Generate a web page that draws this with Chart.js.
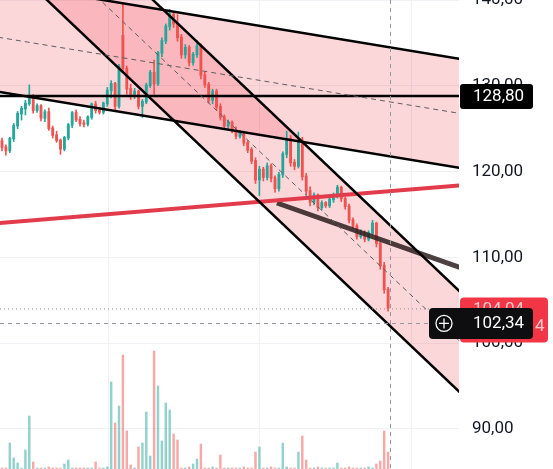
<!DOCTYPE html>
<html>
<head>
<meta charset="utf-8">
<script src="https://cdn.jsdelivr.net/npm/chart.js@4.4.1/dist/chart.umd.min.js"></script>
<style>
  html, body { margin: 0; padding: 0; background: #fff; overflow: hidden; }
  #wrap { width: 553px; height: 469px; position: relative; }
</style>
</head>
<body>
<div id="wrap"><canvas id="myChart"></canvas></div>
<script>
// candles (one per index)
const opens  = [123.5,122.8,122.4,123.8,125.3,126.7,127.3,127.9,128.6,127.1, 127.6,126.2,126.9,125.0,124.2,123.6,122.6,123.9,125.4,126.8,
                126.0,125.6,125.5,126.3,127.8,127.1,126.9,127.9,129.4,130.2, 127.6,135.8,132.0,129.6,128.8,129.3,127.6,128.1,130.0,131.5,
                130.2,133.8,135.2,136.9,138.3,137.2,135.6,133.6,134.4,132.7, 133.6,134.6,131.2,130.1,128.3,129.3,127.5,126.3,125.3,125.7,
                124.8,124.1,124.5,123.3,122.5,121.2,119.0,120.2,119.3,120.6, 119.2,118.0,119.6,122.0,123.8,121.0,120.6,123.6,119.4,117.7,
                116.4,117.2,115.8,116.3,116.0,116.7,117.2,118.1,116.8,115.9, 114.3,113.6,112.4,112.9,112.1,112.8,113.9,111.6,109.0,106.2];
const highs  = [123.9,123.1,124.0,125.6,127.0,127.6,128.3,130.1,129.0,127.9, 127.8,127.2,127.4,125.3,124.7,123.8,124.1,125.6,127.0,127.2,
                126.4,126.0,126.5,128.0,128.2,127.5,128.1,129.8,130.6,130.4, 132.5,139.7,132.3,130.2,129.7,129.5,128.4,130.3,131.8,133.0,
                134.0,135.6,137.2,138.9,138.6,138.3,136.0,134.8,134.7,133.9, 135.3,134.9,131.6,130.4,129.6,129.6,127.9,126.6,126.0,125.9,
                125.2,124.8,124.7,123.6,122.8,121.6,120.6,120.5,121.0,120.9, 119.5,119.9,122.3,124.7,124.2,121.4,124.6,124.0,119.8,118.2,
                117.5,117.4,116.6,116.5,117.0,117.5,118.4,118.3,117.0,116.2, 114.6,113.9,113.2,113.1,113.1,114.3,114.1,111.8,109.4,106.5];
const lows   = [122.4,121.9,122.2,123.5,125.0,126.0,126.6,127.7,126.8,126.9, 125.9,125.8,124.8,123.9,123.4,122.0,122.4,123.7,125.1,125.8,
                125.3,125.2,125.3,126.1,126.8,126.7,126.7,127.6,128.6,127.2, 127.4,131.6,129.0,128.4,128.5,127.3,126.3,127.9,129.8,129.0,
                130.0,133.4,134.9,136.5,136.8,135.2,133.2,133.2,132.3,132.4, 133.3,130.8,129.8,128.0,127.9,127.2,126.0,125.0,125.0,124.5,
                123.8,123.9,123.0,122.2,120.9,118.6,117.2,118.9,119.0,118.8, 117.6,117.7,119.3,121.6,120.6,120.2,120.4,119.0,117.3,116.0,
                116.1,115.4,115.5,115.8,115.8,116.4,116.9,116.5,115.6,114.0, 113.3,112.1,112.2,111.8,111.9,112.6,111.2,108.6,105.8,103.7];
const closes = [122.8,122.4,123.8,125.3,126.7,127.3,127.9,128.6,127.1,127.6, 126.2,126.9,125.0,124.2,123.6,122.6,123.9,125.4,126.8,126.0,
                125.6,125.5,126.3,127.8,127.1,126.9,127.9,129.4,130.2,127.6, 132.2,132.0,129.6,128.8,129.3,127.6,128.1,130.0,131.5,130.2,
                133.8,135.2,136.9,138.3,137.2,135.6,133.6,134.4,132.7,133.6, 134.6,131.2,130.1,128.3,129.3,127.5,126.3,125.3,125.7,124.8,
                124.1,124.5,123.3,122.5,121.2,119.0,120.2,119.3,120.6,119.2, 118.0,119.6,122.0,123.8,121.0,120.6,123.6,119.4,117.7,116.4,
                117.2,115.8,116.3,116.0,116.7,117.2,118.1,116.8,115.9,114.3, 113.6,112.4,112.9,112.1,112.8,113.9,111.6,109.0,106.2,104.04];
const volumes = [1,1,26,11,6,1,19,53,7,1, 1,1,2,1,1,1,5,9,1,1,
                 1,1,1,1,7,1,1,2,87,46, 63,114,38,4,1,22,26,57,13,118,
                 83,28,66,59,35,29,1,1,2,5, 10,25,1,1,2,1,14,1,1,1,
                 1,1,2,1,1,17,22,1,1,2, 1,1,26,2,1,1,17,33,9,1,
                 1,2,1,1,1,1,6,1,1,2, 1,1,1,1,2,1,5,8,38,17];

// drawings: [index, price] end points
const channelAUpper = [[-1, 142.02], [118, 133.08]];
const channelALower = [[-1, 129.31], [118, 120.37]];
const channelAMid   = [[-1, 135.66], [118, 126.73]];
const channelBUpper = [[-1, 157.16], [118, 105.75]];
const channelBLower = [[-1, 145.42], [118, 94.00]];
const channelBMid   = [[-1, 151.29], [118, 99.93]];
const levelLine     = [[-1, 128.80], [118, 128.80]];
const redLine       = [[-1, 113.97], [118, 118.41]];
const darkLine      = [[70.5, 116.33], [118, 108.72]];

const priceTicks = [90, 100, 110, 120, 130, 140];
const lastPrice = 104.04;
const crossPrice = 102.34;
const crossIndex = 99.5;
const levelPrice = 128.80;

const UP = '#26a69a', DOWN = '#ef5350';
const isUp = closes.map((c, i) => c >= opens[i]);
const pts = arr => arr.map(p => ({ x: p[0], y: p[1] }));
const X_MIN = -0.513, X_MAX = 117.18;

const ctx = document.getElementById('myChart').getContext('2d');

function fmt(v) { return v.toFixed(2).replace('.', ','); }

const tagPlugin = {
  id: 'tags',
  afterDraw(chart) {
    const { ctx, chartArea: a, scales: { x, y } } = chart;
    ctx.save();
    ctx.lineWidth = 1;
    // last price line (dotted)
    const yl = y.getPixelForValue(lastPrice);
    ctx.strokeStyle = '#8a8d96';
    ctx.setLineDash([1, 3]);
    ctx.beginPath(); ctx.moveTo(a.left, yl + 0.5); ctx.lineTo(a.right, yl + 0.5); ctx.stroke();
    // crosshair
    const xc = x.getPixelForValue(crossIndex);
    const yc = y.getPixelForValue(crossPrice);
    ctx.strokeStyle = '#9598a1';
    ctx.setLineDash([4, 4]);
    ctx.beginPath(); ctx.moveTo(Math.round(xc) + 0.5, 0); ctx.lineTo(Math.round(xc) + 0.5, chart.height); ctx.stroke();
    ctx.beginPath(); ctx.moveTo(a.left, Math.round(yc) + 0.5); ctx.lineTo(a.right - 30, Math.round(yc) + 0.5); ctx.stroke();
    ctx.setLineDash([]);

    ctx.font = '17px Roboto';
    ctx.textBaseline = 'middle';
    ctx.textAlign = 'left';

    // last price tag (red)
    ctx.fillStyle = '#f23645';
    ctx.beginPath(); ctx.roundRect(a.right + 1, yl - 11, 88, 45, 4); ctx.fill();
    ctx.fillStyle = 'rgba(255,255,255,0.72)';
    ctx.fillText(fmt(lastPrice), a.right + 14, yl + 1);
    ctx.fillText('4', a.right + 76, yl + 18);

    // crosshair tag (black)
    ctx.fillStyle = '#0e0e10';
    ctx.beginPath(); ctx.roundRect(a.right - 30, yc - 15, 104, 31, 4); ctx.fill();
    ctx.strokeStyle = '#ffffff';
    ctx.lineWidth = 1.3;
    const cx = a.right - 15;
    ctx.beginPath(); ctx.arc(cx, yc + 0.5, 8, 0, Math.PI * 2); ctx.stroke();
    ctx.beginPath();
    ctx.moveTo(cx - 5, yc + 0.5); ctx.lineTo(cx + 5, yc + 0.5);
    ctx.moveTo(cx, yc - 4.5); ctx.lineTo(cx, yc + 5.5);
    ctx.stroke();
    ctx.fillStyle = '#ffffff';
    ctx.fillText(fmt(crossPrice), a.right + 14, yc + 1);

    // level tag (black)
    const yh = y.getPixelForValue(levelPrice);
    ctx.fillStyle = '#000000';
    ctx.beginPath(); ctx.roundRect(a.right + 1, yh - 12, 73, 25, 3); ctx.fill();
    ctx.fillStyle = '#ffffff';
    ctx.fillText(fmt(levelPrice), a.right + 14, yh + 1);
    ctx.restore();
  }
};

function lineSet(data, color, width, extra) {
  return Object.assign({
    type: 'line',
    data: pts(data),
    borderColor: color,
    borderWidth: width,
    pointRadius: 0,
    fill: false,
    xAxisID: 'x',
    yAxisID: 'y',
    order: 1
  }, extra || {});
}

const chart = new Chart(ctx, {
  type: 'bar',
  data: {
    datasets: [
      lineSet(channelAUpper, '#000', 2.5, { fill: { target: 1 }, backgroundColor: 'rgba(242,54,69,0.2)' }),
      lineSet(channelALower, '#000', 2.5),
      lineSet(channelAMid, '#5d5d5d', 1, { borderDash: [5, 4] }),
      lineSet(channelBUpper, '#000', 2.5, { fill: { target: 4 }, backgroundColor: 'rgba(242,54,69,0.2)' }),
      lineSet(channelBLower, '#000', 2.5),
      lineSet(channelBMid, '#5d5d5d', 1, { borderDash: [5, 4] }),
      lineSet(levelLine, '#000', 2.5),
      lineSet(redLine, '#e23b4c', 4),
      lineSet(darkLine, 'rgba(45,30,30,0.85)', 5),
      {
        label: 'wicks',
        data: opens.map((o, i) => ({ x: i, y: [lows[i], highs[i]] })),
        backgroundColor: isUp.map(u => u ? UP : DOWN),
        barThickness: 1,
        grouped: false,
        yAxisID: 'y',
        order: 21
      },
      {
        label: 'bodies',
        data: opens.map((o, i) => ({ x: i, y: [Math.min(o, closes[i]), Math.max(o, closes[i]) + 0.08] })),
        backgroundColor: isUp.map(u => u ? UP : DOWN),
        barThickness: 2.2,
        grouped: false,
        yAxisID: 'y',
        order: 20
      },
      {
        label: 'volume',
        data: volumes.map((v, i) => ({ x: i, y: v })),
        backgroundColor: isUp.map(u => u ? 'rgba(38,166,154,0.5)' : 'rgba(239,83,80,0.5)'),
        barThickness: 1.8,
        grouped: false,
        yAxisID: 'yv',
        order: 30
      }
    ]
  },
  options: {
    responsive: true,
    maintainAspectRatio: false,
    animation: false,
    layout: { padding: 0 },
    plugins: {
      legend: { display: false },
      tooltip: { enabled: false },
      filler: { drawTime: 'beforeDatasetsDraw' }
    },
    scales: {
      x: {
        type: 'linear',
        min: X_MIN,
        max: X_MAX,
        offset: false,
        ticks: { display: false },
        grid: { color: '#eef0f3', drawTicks: false, offset: false },
        border: { display: false },
        afterBuildTicks: s => { s.ticks = [27.4, 65.9, 104.9].map(v => ({ value: v })); },
        afterFit: s => { s.height = 0; s.paddingLeft = 0; s.paddingRight = 0; }
      },
      y: {
        position: 'right',
        min: 85.31,
        max: 140,
        ticks: {
          stepSize: 10,
          includeBounds: false,
          padding: 13,
          color: '#131722',
          font: { family: 'Roboto', size: 17 },
          callback: v => priceTicks.includes(v) ? fmt(v) : ''
        },
        grid: { color: '#f0f1f4', drawTicks: false },
        border: { display: false },
        afterFit: s => { s.width = 94; s.paddingTop = 0; s.paddingBottom = 0; }
      },
      yv: {
        display: false,
        min: 0,
        max: 469
      }
    }
  },
  plugins: [tagPlugin]
});
</script>
</body>
</html>
